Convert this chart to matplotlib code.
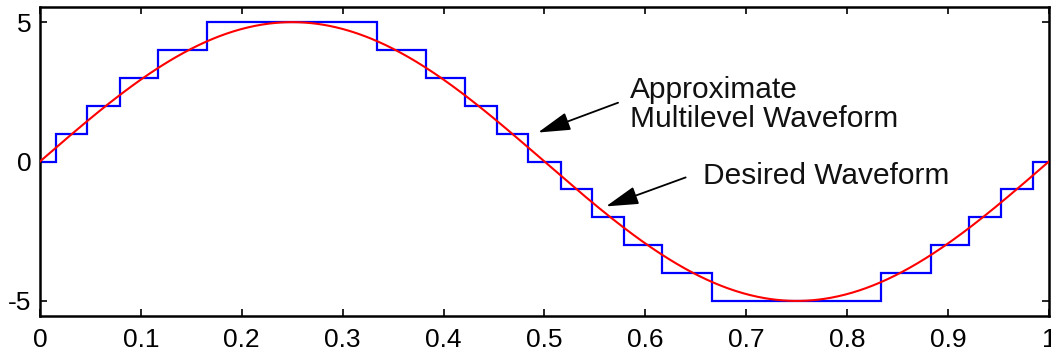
import numpy as np
import matplotlib
matplotlib.use("Agg")
import matplotlib.pyplot as plt

# ---- data ----
step_edges = [0.0, 0.016, 0.047, 0.079, 0.117, 0.166, 0.334, 0.383, 0.421, 0.453,
              0.484, 0.516, 0.547, 0.579, 0.617, 0.666, 0.834, 0.883, 0.921, 0.953,
              0.984, 1.0]
step_levels = [0, 1, 2, 3, 4, 5, 4, 3, 2, 1, 0, -1, -2, -3, -4, -5, -4, -3, -2, -1, 0]
amplitude = 5.0
frequency = 1.0
x_ticks = [0, 0.1, 0.2, 0.3, 0.4, 0.5, 0.6, 0.7, 0.8, 0.9, 1]
x_tick_labels = ["0", "0.1", "0.2", "0.3", "0.4", "0.5", "0.6", "0.7", "0.8", "0.9", "1"]
y_ticks = [-5, 0, 5]
y_tick_labels = ["-5", "0", "5"]
label_approx = "Approximate\nMultilevel Waveform"
label_desired = "Desired Waveform"

plt.rcParams['font.family'] = ['Liberation Sans', 'DejaVu Sans']
plt.rcParams['axes.unicode_minus'] = False

fig = plt.figure(figsize=(10.51, 3.55), dpi=100)
ax = fig.add_axes([0.038, 0.110, 0.960, 0.870])

t = np.linspace(0, 1, 1000)
desired = amplitude * np.sin(2 * np.pi * frequency * t)

ax.stairs(step_levels, step_edges, color='#0000ff', lw=1.6, zorder=2, baseline=None)
ax.plot(t, desired, color='#ff0000', lw=1.5, zorder=3)

ax.set_xlim(0, 1)
ax.set_ylim(-5.54, 5.54)
ax.set_xticks(x_ticks)
ax.set_xticklabels(x_tick_labels)
ax.set_yticks(y_ticks)
ax.set_yticklabels(y_tick_labels)
ax.tick_params(direction='in', length=5, width=1.2, labelsize=19,
               top=True, right=True, colors='black')
ax.tick_params(axis='x', pad=9)
ax.tick_params(axis='y', pad=6)
for s in ax.spines.values():
    s.set_linewidth(1.8)

ax.text(0.585, 1.25, label_approx, fontsize=21.5, ha='left', va='baseline',
        linespacing=1.05, color='#111111')
ax.text(0.657, -0.82, label_desired, fontsize=21.5, ha='left', va='baseline',
        color='#111111')

arrow_kw = dict(arrowstyle='-|>,head_length=1.0,head_width=0.28', color='black',
                lw=1.3, shrinkA=0, shrinkB=0, mutation_scale=20)
ax.annotate('', xy=(0.4936, 1.04), xytext=(0.573, 2.11), arrowprops=arrow_kw)
ax.annotate('', xy=(0.561, -1.61), xytext=(0.640, -0.57), arrowprops=arrow_kw)

fig.savefig("out.png", dpi=100)
